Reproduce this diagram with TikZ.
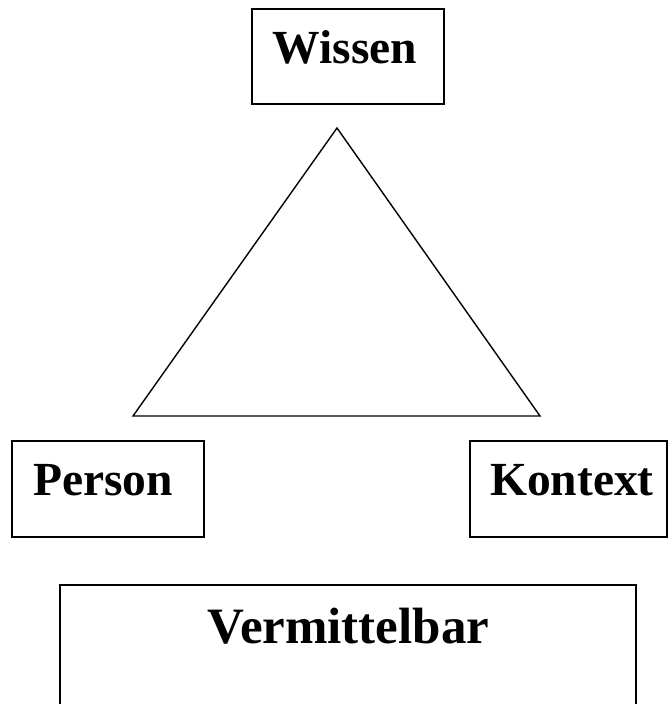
\documentclass[tikz,border=0pt]{standalone}
\usepackage{fontspec}
\setmainfont{Liberation Serif}
\begin{document}
\begin{tikzpicture}[x=1pt,y=-1pt,
  frame/.style={draw, line width=2pt, rectangle, inner sep=0pt},
  label/.style={font=\bfseries\fontsize{47.5}{50}\selectfont, anchor=base, inner sep=0pt},
  biglabel/.style={font=\bfseries\fontsize{51}{54}\selectfont, anchor=base, inner sep=0pt}]
\clip (0,0) rectangle (668,704);
\fill[white] (0,0) rectangle (668,704);

% boxes
\node[frame, minimum width=192pt, minimum height=95pt] (wissenbox) at (348,56.5) {};
\node[frame, minimum width=192pt, minimum height=96pt] (personbox) at (108,489) {};
\node[frame, minimum width=197pt, minimum height=96pt] (kontextbox) at (568.5,489) {};
\node[frame, minimum width=576pt, minimum height=120pt] (vermbox) at (348,645) {};

% labels
\node[label] (wissen) at (345,63) {Wissen};
\node[label] (person) at (103,495) {Person};
\node[label] (kontext) at (572,495) {Kontext};
\node[biglabel] (verm) at (348.5,643) {Vermittelbar};

% triangle
\coordinate (top) at (337,128);
\coordinate (left) at (133,416);
\coordinate (right) at (540,416);
\draw[line width=1.4pt, line join=miter] (top) -- (left) -- (right) -- cycle;
\end{tikzpicture}
\end{document}
